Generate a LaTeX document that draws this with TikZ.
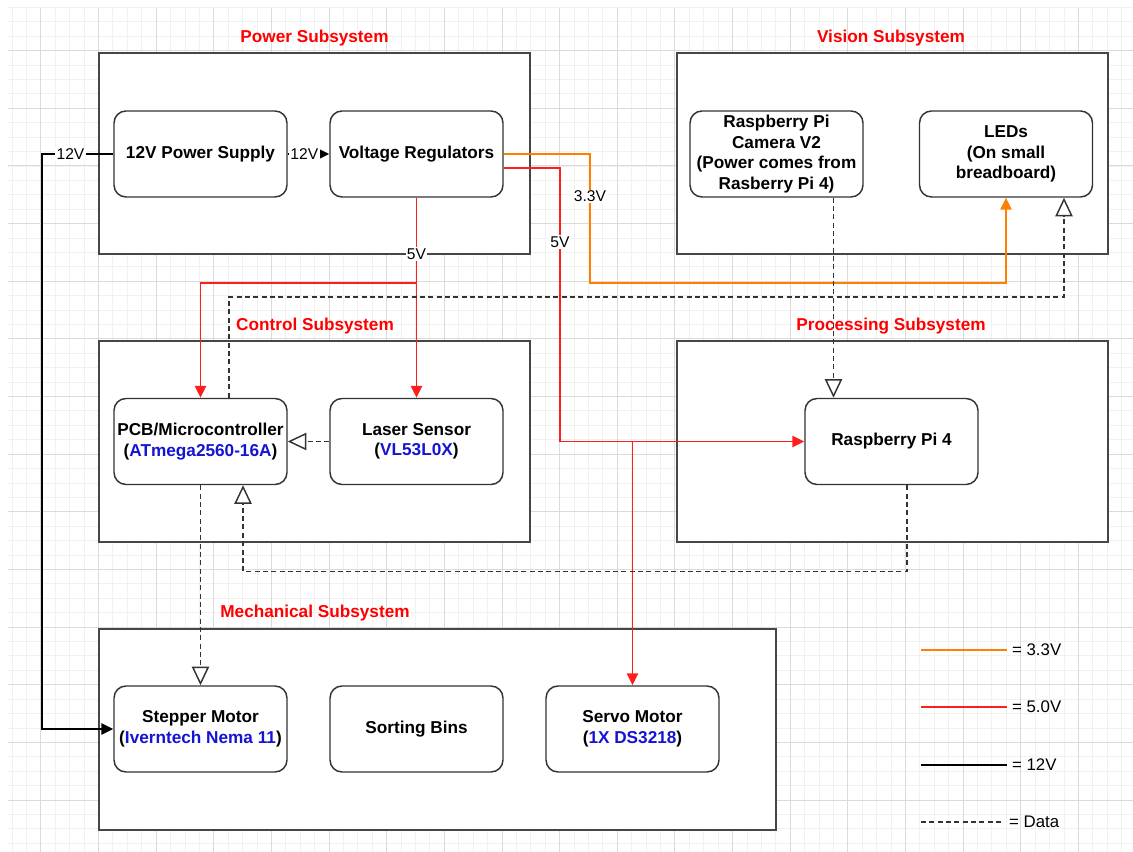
\documentclass[tikz,border=0pt]{standalone}
\usepackage{fontspec}
\setmainfont{Liberation Sans}
\usepackage{xcolor}
\usepackage{tikz}
\usetikzlibrary{arrows.meta}
\definecolor{gridmin}{RGB}{241,241,241}
\definecolor{gridmaj}{RGB}{218,218,218}
\definecolor{boxgray}{RGB}{70,70,70}
\definecolor{pwrorange}{RGB}{255,128,0}
\definecolor{pwrred}{RGB}{255,30,30}
\definecolor{partblue}{RGB}{20,20,210}

\begin{document}
\begin{tikzpicture}[x=0.75pt,y=-0.75pt,
		subsys/.style={draw=boxgray,line width=1.5pt,fill=white,minimum width=323.25pt,minimum height=150.75pt,inner sep=0pt},
		part/.style={draw=black!80,line width=1.1pt,fill=white,rounded corners=9pt,minimum width=129.75pt,minimum height=64.5pt,inner sep=1pt,align=center,font=\fontsize{12.9}{15.4}\selectfont\bfseries},
		title/.style={text=red,font=\fontsize{12.9}{15.4}\selectfont\bfseries},
		wire/.style={line width=1.1pt},
		v12/.style={wire,black,-{Triangle[length=9pt,width=8.5pt]}},
		v5/.style={wire,pwrred,-{Triangle[length=9pt,width=8.5pt]}},
		v33/.style={wire,pwrorange,-{Triangle[length=9pt,width=8.5pt]}},
		data/.style={wire,black!80,dash pattern=on 3.75pt off 2.5pt,-{Triangle[open,length=14pt,width=13pt]}},
		lbl/.style={fill=white,text=black,inner sep=1pt,font=\fontsize{11.7}{14}\selectfont},
		legend/.style={right,text=black,font=\fontsize{12.6}{15}\selectfont}]
		\fill[white] (0,0) rectangle (1133,852);
		\useasboundingbox (0,0) rectangle (1133,852);
		% background grid
		\foreach \i in {0,...,77} \draw[gridmin,line width=0.6pt] ({12+14.41*\i},8) -- ({12+14.41*\i},852);
		\foreach \j in {0,...,58} \draw[gridmin,line width=0.6pt] (8,{7.4+14.41*\j}) -- (1133,{7.4+14.41*\j});
		\foreach \i in {0,...,18} \draw[gridmaj,line width=0.6pt] ({40.8+57.64*\i},8) -- ({40.8+57.64*\i},852);
		\foreach \j in {0,...,13} \draw[gridmaj,line width=0.6pt] (8,{50.6+57.64*\j}) -- (1133,{50.6+57.64*\j});
		% subsystems
		\node[subsys] (powerbox) at (314.5,153.5) {};
		\node[subsys] (visionbox) at (892,153.5) {};
		\node[subsys] (controlbox) at (314.5,441.5) {};
		\node[subsys] (procbox) at (892,441.5) {};
		\node[subsys,minimum width=507.75pt] (mechbox) at (437.5,729.5) {};
		\node[title] (powertitle) at (314.5,38) {Power Subsystem};
		\node[title] (visiontitle) at (891,38) {Vision Subsystem};
		\node[title] (controltitle) at (315,326) {Control Subsystem};
		\node[title] (proctitle) at (891,326) {Processing Subsystem};
		\node[title] (mechtitle) at (315,613) {Mechanical Subsystem};
		% parts
		\node[part] (psu) at (200.5,154) {12V Power Supply};
		\node[part] (vr) at (416.5,154) {Voltage Regulators};
		\node[part] (cam) at (776.5,154) {Raspberry Pi\\Camera V2\\(Power comes from\\Rasberry Pi 4)};
		\node[part] (leds) at (1006,154) {LEDs\\(On small\\breadboard)};
		\node[part] (pcb) at (200.5,441.5) {PCB/Microcontroller\\(\textcolor{partblue}{ATmega2560-16A})};
		\node[part] (laser) at (416.5,441.5) {Laser Sensor\\(\textcolor{partblue}{VL53L0X})};
		\node[part] (pi4) at (891.5,441.5) {Raspberry Pi 4};
		\node[part] (stepper) at (200.5,729) {Stepper Motor\\(\textcolor{partblue}{Iverntech Nema 11})};
		\node[part] (bins) at (416.5,729) {Sorting Bins};
		\node[part] (servo) at (632.5,729) {Servo Motor\\(\textcolor{partblue}{1X DS3218})};
		% power wires
		\draw[v12] (psu.west) -- node[lbl,pos=0.6] {12V} (42,154) |- (stepper.west);
		\draw[v12] (psu) -- node[lbl,pos=0.4] {12V} (vr);
		\draw[v33] (vr.east) -- (590,154) -- node[lbl,pos=0.33] {3.3V} (590,283) -| (leds.south);
		\draw[v5] ([yshift=-10.5pt]vr.east) -- (560,168) -- node[lbl,pos=0.27] {5V} (560,441.5) -- (pi4.west);
		\coordinate (servotap) at (632.5,441.5);
		\draw[v5] (servotap) -- (servo.north);
		\draw[v5] (vr.south) -- node[lbl,pos=0.66] {5V} (416.5,283) -- (laser.north);
		\coordinate (pcbtap) at (416.5,283);
		\draw[v5] (pcbtap) -| (pcb.north);
		% data wires
		\path ([xshift=42.75pt]cam.south) coordinate (camout);
		\draw[data] (camout) -- (camout |- pi4.north);
		\coordinate (ledturn) at (1064,297);
		\path ([xshift=21.4pt]pcb.north) coordinate (pcbout);
		\draw[data] (pcbout) |- (ledturn) -- (ledturn |- leds.south);
		\draw[data] (laser) -- (pcb);
		\draw[data] (pcb) -- (stepper);
		\draw[data] ([xshift=11.6pt]pi4.south) -- ++(0,86) -| ([xshift=31.9pt]pcb.south);
		% legend
		\draw[wire,pwrorange] (921,650) -- (1007,650) node[legend] {= 3.3V};
		\draw[wire,pwrred] (921,707) -- (1007,707) node[legend] {= 5.0V};
		\draw[wire,black] (921,765) -- (1007,765) node[legend] {= 12V};
		\draw[wire,black!80,dash pattern=on 3.75pt off 2.5pt] (921,822) -- (1004,822) node[legend] {= Data};
	\end{tikzpicture}
\end{document}
